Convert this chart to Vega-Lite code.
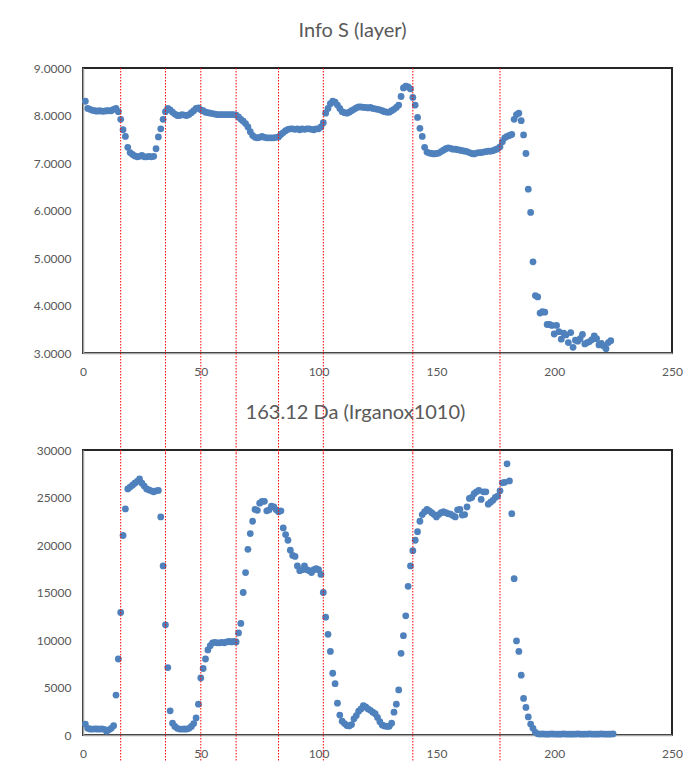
{
  "$schema": "https://vega.github.io/schema/vega-lite/v6.json",
  "background": "white",
  "padding": {"left": 32, "top": 20, "right": 5, "bottom": 0},
  "datasets": {
    "info": [
      {"x":1,"s":8.30},{"x":2,"s":8.15},{"x":3,"s":8.13},{"x":4,"s":8.11},{"x":5,"s":8.10},{"x":6,"s":8.09},{"x":7,"s":8.10},{"x":8,"s":8.09},{"x":9,"s":8.09},{"x":10,"s":8.10},
      {"x":11,"s":8.10},{"x":12,"s":8.10},{"x":13,"s":8.13},{"x":14,"s":8.15},{"x":15,"s":8.08},{"x":16,"s":7.92},{"x":17,"s":7.70},{"x":18,"s":7.56},{"x":19,"s":7.33},{"x":20,"s":7.22},
      {"x":21,"s":7.18},{"x":22,"s":7.15},{"x":23,"s":7.13},{"x":24,"s":7.14},{"x":25,"s":7.16},{"x":26,"s":7.13},{"x":27,"s":7.13},{"x":28,"s":7.14},{"x":29,"s":7.13},{"x":30,"s":7.14},
      {"x":31,"s":7.30},{"x":32,"s":7.55},{"x":33,"s":7.72},{"x":34,"s":7.92},{"x":35,"s":8.08},{"x":36,"s":8.15},{"x":37,"s":8.12},{"x":38,"s":8.07},{"x":39,"s":8.03},{"x":40,"s":8.00},
      {"x":41,"s":8.00},{"x":42,"s":8.02},{"x":43,"s":8.01},{"x":44,"s":8.00},{"x":45,"s":8.02},{"x":46,"s":8.06},{"x":47,"s":8.10},{"x":48,"s":8.15},{"x":49,"s":8.16},{"x":50,"s":8.12},
      {"x":51,"s":8.10},{"x":52,"s":8.07},{"x":53,"s":8.06},{"x":54,"s":8.05},{"x":55,"s":8.04},{"x":56,"s":8.03},{"x":57,"s":8.02},{"x":58,"s":8.02},{"x":59,"s":8.02},{"x":60,"s":8.02},
      {"x":61,"s":8.02},{"x":62,"s":8.02},{"x":63,"s":8.02},{"x":64,"s":8.02},{"x":65,"s":8.01},{"x":66,"s":7.97},{"x":67,"s":7.92},{"x":68,"s":7.88},{"x":69,"s":7.83},{"x":70,"s":7.76},
      {"x":71,"s":7.66},{"x":72,"s":7.58},{"x":73,"s":7.54},{"x":74,"s":7.53},{"x":75,"s":7.54},{"x":76,"s":7.56},{"x":77,"s":7.54},{"x":78,"s":7.53},{"x":79,"s":7.53},{"x":80,"s":7.53},
      {"x":81,"s":7.53},{"x":82,"s":7.54},{"x":83,"s":7.55},{"x":84,"s":7.60},{"x":85,"s":7.64},{"x":86,"s":7.68},{"x":87,"s":7.71},{"x":88,"s":7.72},{"x":89,"s":7.72},{"x":90,"s":7.71},
      {"x":91,"s":7.72},{"x":92,"s":7.70},{"x":93,"s":7.72},{"x":94,"s":7.71},{"x":95,"s":7.72},{"x":96,"s":7.72},{"x":97,"s":7.71},{"x":98,"s":7.70},{"x":99,"s":7.72},{"x":100,"s":7.72},
      {"x":101,"s":7.76},{"x":102,"s":7.85},{"x":103,"s":8.05},{"x":104,"s":8.15},{"x":105,"s":8.25},{"x":106,"s":8.30},{"x":107,"s":8.28},{"x":108,"s":8.22},{"x":109,"s":8.15},{"x":110,"s":8.08},
      {"x":111,"s":8.06},{"x":112,"s":8.05},{"x":113,"s":8.07},{"x":114,"s":8.10},{"x":115,"s":8.13},{"x":116,"s":8.16},{"x":117,"s":8.18},{"x":118,"s":8.18},{"x":119,"s":8.17},{"x":120,"s":8.17},
      {"x":121,"s":8.16},{"x":122,"s":8.17},{"x":123,"s":8.15},{"x":124,"s":8.14},{"x":125,"s":8.13},{"x":126,"s":8.12},{"x":127,"s":8.10},{"x":128,"s":8.08},{"x":129,"s":8.07},{"x":130,"s":8.07},
      {"x":131,"s":8.10},{"x":132,"s":8.13},{"x":133,"s":8.17},{"x":134,"s":8.22},{"x":135,"s":8.40},{"x":136,"s":8.58},{"x":137,"s":8.62},{"x":138,"s":8.60},{"x":139,"s":8.56},{"x":140,"s":8.38},
      {"x":141,"s":8.22},{"x":142,"s":7.96},{"x":143,"s":7.73},{"x":144,"s":7.56},{"x":145,"s":7.33},{"x":146,"s":7.23},{"x":147,"s":7.21},{"x":148,"s":7.20},{"x":149,"s":7.19},{"x":150,"s":7.20},
      {"x":151,"s":7.21},{"x":152,"s":7.24},{"x":153,"s":7.27},{"x":154,"s":7.30},{"x":155,"s":7.32},{"x":156,"s":7.31},{"x":157,"s":7.29},{"x":158,"s":7.29},{"x":159,"s":7.28},{"x":160,"s":7.27},
      {"x":161,"s":7.26},{"x":162,"s":7.25},{"x":163,"s":7.24},{"x":164,"s":7.22},{"x":165,"s":7.20},{"x":166,"s":7.19},{"x":167,"s":7.21},{"x":168,"s":7.22},{"x":169,"s":7.22},{"x":170,"s":7.23},
      {"x":171,"s":7.24},{"x":172,"s":7.25},{"x":173,"s":7.25},{"x":174,"s":7.26},{"x":175,"s":7.28},{"x":176,"s":7.30},{"x":177,"s":7.34},{"x":178,"s":7.45},{"x":179,"s":7.53},{"x":180,"s":7.56},
      {"x":181,"s":7.58},{"x":182,"s":7.60},{"x":183,"s":7.92},{"x":184,"s":8.02},{"x":185,"s":8.05},{"x":186,"s":7.89},{"x":187,"s":7.59},{"x":188,"s":7.20},{"x":189,"s":6.45},{"x":190,"s":5.96},
      {"x":191,"s":4.92},{"x":192,"s":4.21},{"x":193,"s":4.18},{"x":194,"s":3.84},{"x":195,"s":3.87},{"x":196,"s":3.86},{"x":197,"s":3.60},{"x":198,"s":3.60},{"x":199,"s":3.58},{"x":200,"s":3.40},
      {"x":201,"s":3.58},{"x":202,"s":3.45},{"x":203,"s":3.29},{"x":204,"s":3.42},{"x":205,"s":3.38},{"x":206,"s":3.22},{"x":207,"s":3.43},{"x":208,"s":3.12},{"x":209,"s":3.27},{"x":210,"s":3.25},
      {"x":211,"s":3.30},{"x":212,"s":3.39},{"x":213,"s":3.19},{"x":214,"s":3.22},{"x":215,"s":3.24},{"x":216,"s":3.28},{"x":217,"s":3.36},{"x":218,"s":3.30},{"x":219,"s":3.17},{"x":220,"s":3.20},
      {"x":221,"s":3.15},{"x":222,"s":3.09},{"x":223,"s":3.22},{"x":224,"s":3.26}
    ],
    "irg": [
      {"x":1,"v":1150},{"x":2,"v":700},{"x":3,"v":630},{"x":4,"v":620},{"x":5,"v":640},{"x":6,"v":630},{"x":7,"v":620},{"x":8,"v":640},{"x":9,"v":600},{"x":10,"v":400},
      {"x":11,"v":550},{"x":12,"v":700},{"x":13,"v":980},{"x":14,"v":4200},{"x":15,"v":8000},{"x":16,"v":12900},{"x":17,"v":21000},{"x":18,"v":23800},{"x":19,"v":25900},{"x":20,"v":26100},
      {"x":21,"v":26300},{"x":22,"v":26500},{"x":23,"v":26700},{"x":24,"v":26950},{"x":25,"v":26500},{"x":26,"v":26200},{"x":27,"v":25900},{"x":28,"v":25800},{"x":29,"v":25700},{"x":30,"v":25600},
      {"x":31,"v":25700},{"x":32,"v":25750},{"x":33,"v":22950},{"x":34,"v":17800},{"x":35,"v":11600},{"x":36,"v":7100},{"x":37,"v":2550},{"x":38,"v":1250},{"x":39,"v":900},{"x":40,"v":700},
      {"x":41,"v":620},{"x":42,"v":620},{"x":43,"v":630},{"x":44,"v":620},{"x":45,"v":700},{"x":46,"v":900},{"x":47,"v":1200},{"x":48,"v":1800},{"x":49,"v":3250},{"x":50,"v":6000},
      {"x":51,"v":7000},{"x":52,"v":8000},{"x":53,"v":8950},{"x":54,"v":9400},{"x":55,"v":9700},{"x":56,"v":9750},{"x":57,"v":9700},{"x":58,"v":9700},{"x":59,"v":9750},{"x":60,"v":9700},
      {"x":61,"v":9800},{"x":62,"v":9850},{"x":63,"v":9800},{"x":64,"v":9850},{"x":65,"v":9800},{"x":66,"v":10750},{"x":67,"v":11750},{"x":68,"v":15000},{"x":69,"v":17100},{"x":70,"v":19550},
      {"x":71,"v":21200},{"x":72,"v":22500},{"x":73,"v":23750},{"x":74,"v":23650},{"x":75,"v":24400},{"x":76,"v":24600},{"x":77,"v":24600},{"x":78,"v":23600},{"x":79,"v":23700},{"x":80,"v":24100},
      {"x":81,"v":24000},{"x":82,"v":23700},{"x":83,"v":23500},{"x":84,"v":23600},{"x":85,"v":21800},{"x":86,"v":21100},{"x":87,"v":20500},{"x":88,"v":19450},{"x":89,"v":18900},{"x":90,"v":18800},
      {"x":91,"v":17800},{"x":92,"v":17300},{"x":93,"v":17400},{"x":94,"v":17800},{"x":95,"v":17400},{"x":96,"v":17300},{"x":97,"v":17100},{"x":98,"v":17400},{"x":99,"v":17500},{"x":100,"v":17400},
      {"x":101,"v":16900},{"x":102,"v":15000},{"x":103,"v":12400},{"x":104,"v":10600},{"x":105,"v":8800},{"x":106,"v":6500},{"x":107,"v":5400},{"x":108,"v":3350},{"x":109,"v":2100},{"x":110,"v":1450},
      {"x":111,"v":1200},{"x":112,"v":1000},{"x":113,"v":950},{"x":114,"v":1100},{"x":115,"v":1700},{"x":116,"v":2050},{"x":117,"v":2500},{"x":118,"v":2750},{"x":119,"v":3100},{"x":120,"v":2950},
      {"x":121,"v":2750},{"x":122,"v":2600},{"x":123,"v":2400},{"x":124,"v":2250},{"x":125,"v":1850},{"x":126,"v":1400},{"x":127,"v":1050},{"x":128,"v":950},{"x":129,"v":900},{"x":130,"v":920},
      {"x":131,"v":1250},{"x":132,"v":2400},{"x":133,"v":3250},{"x":134,"v":4750},{"x":135,"v":8600},{"x":136,"v":10450},{"x":137,"v":12550},{"x":138,"v":15650},{"x":139,"v":17800},{"x":140,"v":19400},
      {"x":141,"v":20500},{"x":142,"v":21400},{"x":143,"v":22500},{"x":144,"v":23200},{"x":145,"v":23500},{"x":146,"v":23750},{"x":147,"v":23600},{"x":148,"v":23400},{"x":149,"v":23200},{"x":150,"v":22950},
      {"x":151,"v":23200},{"x":152,"v":23400},{"x":153,"v":23500},{"x":154,"v":23400},{"x":155,"v":23300},{"x":156,"v":23250},{"x":157,"v":23100},{"x":158,"v":22950},{"x":159,"v":23700},{"x":160,"v":23750},
      {"x":161,"v":23150},{"x":162,"v":23200},{"x":163,"v":24000},{"x":164,"v":24900},{"x":165,"v":25000},{"x":166,"v":25400},{"x":167,"v":25600},{"x":168,"v":25750},{"x":169,"v":24800},{"x":170,"v":25600},
      {"x":171,"v":25600},{"x":172,"v":24300},{"x":173,"v":24500},{"x":174,"v":24700},{"x":175,"v":25000},{"x":176,"v":25150},{"x":177,"v":25700},{"x":178,"v":26550},{"x":179,"v":26600},{"x":180,"v":28550},
      {"x":181,"v":26750},{"x":182,"v":23300},{"x":183,"v":16450},{"x":184,"v":9900},{"x":185,"v":8800},{"x":186,"v":6300},{"x":187,"v":3850},{"x":188,"v":2900},{"x":189,"v":1900},{"x":190,"v":1150},
      {"x":191,"v":700},{"x":192,"v":280},{"x":193,"v":120},{"x":194,"v":100},{"x":195,"v":110},{"x":196,"v":100},{"x":197,"v":90},{"x":198,"v":100},{"x":199,"v":110},{"x":200,"v":100},
      {"x":201,"v":100},{"x":202,"v":90},{"x":203,"v":100},{"x":204,"v":110},{"x":205,"v":100},{"x":206,"v":100},{"x":207,"v":90},{"x":208,"v":100},{"x":209,"v":100},{"x":210,"v":110},
      {"x":211,"v":100},{"x":212,"v":90},{"x":213,"v":100},{"x":214,"v":100},{"x":215,"v":110},{"x":216,"v":100},{"x":217,"v":100},{"x":218,"v":90},{"x":219,"v":100},{"x":220,"v":110},
      {"x":221,"v":100},{"x":222,"v":100},{"x":223,"v":90},{"x":224,"v":100},{"x":225,"v":110}
    ],
    "marks": [{"x":16},{"x":35},{"x":50},{"x":65},{"x":83},{"x":102},{"x":140},{"x":177}]
  },
  "bounds": "flush",
  "spacing": 97,
  "vconcat": [
    {
      "width": 589,
      "height": 285,
      "title": {"text": "Info S (layer)", "dx": -25},
      "layer": [
        {
          "data": {"name": "info"},
          "mark": {"type": "circle", "size": 46, "opacity": 1, "color": "#4f81bd"},
          "encoding": {
            "x": {"field": "x", "type": "quantitative", "scale": {"domain": [0, 250], "nice": false},
                  "axis": {"values": [0, 50, 100, 150, 200, 250], "format": "d", "title": null}},
            "y": {"field": "s", "type": "quantitative", "scale": {"domain": [3, 9], "nice": false, "zero": false},
                  "axis": {"values": [3, 4, 5, 6, 7, 8, 9], "format": ".4f", "title": null}}
          }
        },
        {
          "data": {"name": "marks"},
          "mark": {"type": "rule", "color": "#ff0000", "strokeWidth": 1, "strokeDash": [1.5, 1.5], "clip": false},
          "encoding": {
            "x": {"field": "x", "type": "quantitative"},
            "y": {"datum": 9},
            "y2": {"datum": 0.9}
          }
        }
      ]
    },
    {
      "width": 589,
      "height": 285,
      "title": {"text": "163.12 Da (Irganox1010)", "dx": -22},
      "layer": [
        {
          "data": {"name": "irg"},
          "mark": {"type": "circle", "size": 46, "opacity": 1, "color": "#4f81bd"},
          "encoding": {
            "x": {"field": "x", "type": "quantitative", "scale": {"domain": [0, 250], "nice": false},
                  "axis": {"values": [0, 50, 100, 150, 200, 250], "format": "d", "title": null}},
            "y": {"field": "v", "type": "quantitative", "scale": {"domain": [0, 30000], "nice": false},
                  "axis": {"values": [0, 5000, 10000, 15000, 20000, 25000, 30000], "format": "d", "title": null}}
          }
        },
        {
          "data": {"name": "marks"},
          "mark": {"type": "rule", "color": "#ff0000", "strokeWidth": 1, "strokeDash": [1.5, 1.5], "clip": false},
          "encoding": {
            "x": {"field": "x", "type": "quantitative"},
            "y": {"datum": 30000},
            "y2": {"datum": -4000}
          }
        }
      ]
    }
  ],
  "config": {
    "font": "Lato",
    "view": {"stroke": "#262626", "strokeWidth": 2},
    "title": {"fontSize": 20, "fontWeight": "normal", "color": "#595959", "font": "Lato", "offset": 21, "anchor": "middle"},
    "axis": {
      "grid": false,
      "ticks": false,
      "domainColor": "#a6a6a6",
      "domainWidth": 1.5,
      "labelColor": "#595959",
      "labelFont": "Lato",
      "labelFontSize": 12,
      "labelPadding": 12,
      "labelFlush": false,
      "labelOverlap": false
    },
    "axisX": {"labelPadding": 13}
  }
}
